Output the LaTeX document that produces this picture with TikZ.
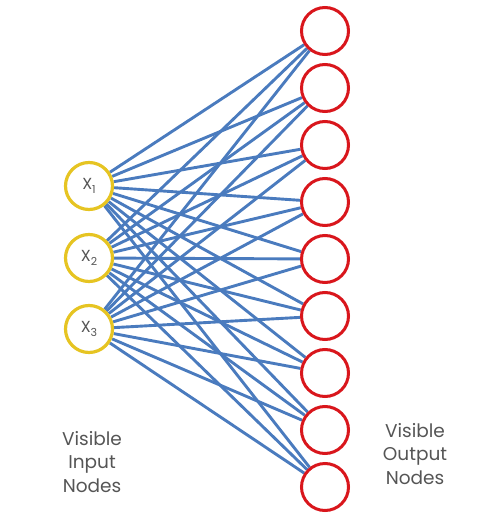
\documentclass[tikz,border=0pt]{standalone}
\usepackage{fontspec}
\setmainfont{Poppins}
\usetikzlibrary{backgrounds}
\definecolor{edgeblue}{HTML}{4A7BBE}
\definecolor{inyellow}{HTML}{E6C422}
\definecolor{outred}{HTML}{D9161C}
\definecolor{txtgray}{HTML}{555555}
\newcommand{\subidx}[1]{\raisebox{-4pt}{\fontsize{11}{11}\selectfont #1}}
\tikzset{
  innode/.style={circle,draw=inyellow,line width=3.2pt,fill=white,minimum size=47pt,inner sep=0pt,text=txtgray,font=\fontsize{16}{18}\selectfont},
  outnode/.style={circle,draw=outred,line width=3pt,fill=white,minimum size=47pt,inner sep=0pt},
  conn/.style={draw=edgeblue,line width=2.9pt},
  lbl/.style={align=center,text=txtgray,font=\fontsize{18.5}{23.5}\selectfont}
}
\begin{document}
\begin{tikzpicture}[x=1pt,y=-1pt]
\useasboundingbox (0,0) rectangle (503,521);
\node[innode] (i1) at (89,186) {X\subidx{1}};
\node[innode] (i2) at (89,258) {X\subidx{2}};
\node[innode] (i3) at (89,329) {X\subidx{3}};
\foreach \k in {1,...,9}{
  \node[outnode] (o\k) at (325,{31+(\k-1)*57}) {};
}
\begin{scope}[on background layer]
\foreach \i in {1,2,3}{
  \foreach \k in {1,...,9}{
    \draw[conn] (i\i) -- (o\k);
  }
}
\end{scope}
\node[lbl] (li) at (92,462) {Visible\\Input\\Nodes};
\node[lbl] (lo) at (415,454) {Visible\\Output\\Nodes};
\end{tikzpicture}
\end{document}
